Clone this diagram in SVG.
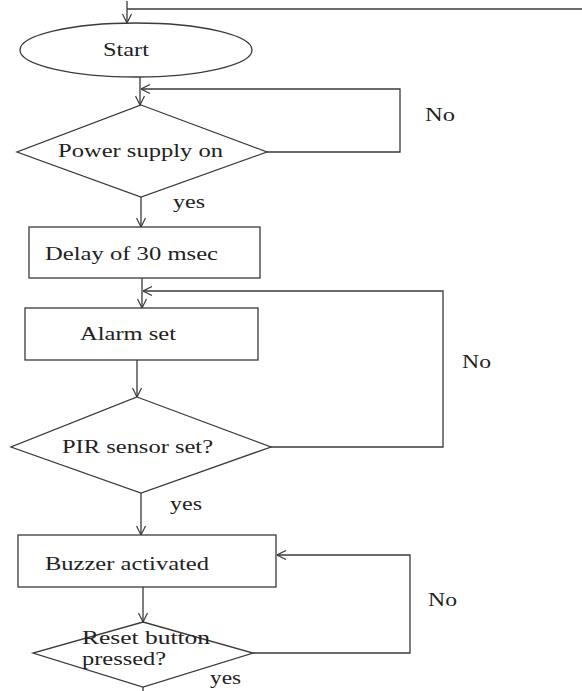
<svg xmlns="http://www.w3.org/2000/svg" width="582" height="691" viewBox="0 0 582 691">
<style>
.shape{fill:none;stroke:#3a3a3a;stroke-width:1.3}
.conn{fill:none;stroke:#3a3a3a;stroke-width:1.3}
text{font-family:"Liberation Serif","Times New Roman",serif;font-size:19px;fill:#222}
</style>
<defs>
<marker id="arr" viewBox="0 0 10 10" refX="10" refY="5" markerWidth="10" markerHeight="10" markerUnits="userSpaceOnUse" orient="auto">
<path d="M1,0.5 L10,5 L1,9.5" fill="none" stroke="#3a3a3a" stroke-width="1.2"/>
</marker>
</defs>
<rect width="582" height="691" fill="#ffffff"/>
<g id="connectors">
<path class="conn" d="M582,9 H127"/>
<path class="conn" d="M127,1 V23" marker-end="url(#arr)"/>
<path class="conn" d="M140,77 V105" marker-end="url(#arr)"/>
<path class="conn" d="M267,152 H400 V89 H141" marker-end="url(#arr)"/>
<path class="conn" d="M141,197 V227" marker-end="url(#arr)"/>
<path class="conn" d="M142,278 V308" marker-end="url(#arr)"/>
<path class="conn" d="M271,447 H443 V291 H143" marker-end="url(#arr)"/>
<path class="conn" d="M137,360 V397" marker-end="url(#arr)"/>
<path class="conn" d="M141,493 V535" marker-end="url(#arr)"/>
<path class="conn" d="M143,587 V622" marker-end="url(#arr)"/>
<path class="conn" d="M253,653 H410 V555 H277" marker-end="url(#arr)"/>
<path class="conn" d="M143,687 V691"/>
<text x="425" y="121" textLength="30" lengthAdjust="spacingAndGlyphs">No</text>
<text x="173" y="208" textLength="32" lengthAdjust="spacingAndGlyphs">yes</text>
<text x="462" y="368" textLength="29" lengthAdjust="spacingAndGlyphs">No</text>
<text x="170" y="510" textLength="32" lengthAdjust="spacingAndGlyphs">yes</text>
<text x="428" y="606" textLength="29" lengthAdjust="spacingAndGlyphs">No</text>
<text x="210" y="684" textLength="31" lengthAdjust="spacingAndGlyphs">yes</text>
</g>
<g id="start">
<ellipse class="shape" cx="136" cy="50" rx="116" ry="27"/>
<text x="103" y="56" textLength="46" lengthAdjust="spacingAndGlyphs">Start</text>
</g>
<g id="power">
<polygon class="shape" points="141,105 267,152 141,197 17,152"/>
<text x="58" y="157" textLength="165" lengthAdjust="spacingAndGlyphs">Power supply on</text>
</g>
<g id="delay">
<rect class="shape" x="29" y="227" width="231" height="51"/>
<text x="45" y="260" textLength="173" lengthAdjust="spacingAndGlyphs">Delay of 30 msec</text>
</g>
<g id="alarm">
<rect class="shape" x="25" y="308" width="233" height="52"/>
<text x="80" y="340" textLength="96" lengthAdjust="spacingAndGlyphs">Alarm set</text>
</g>
<g id="pir">
<polygon class="shape" points="137,397 271,447 141,493 11,447"/>
<text x="62" y="453" textLength="151" lengthAdjust="spacingAndGlyphs">PIR sensor set?</text>
</g>
<g id="buzzer">
<rect class="shape" x="18" y="535" width="258" height="52"/>
<text x="45" y="570" textLength="164" lengthAdjust="spacingAndGlyphs">Buzzer activated</text>
</g>
<g id="reset">
<polygon class="shape" points="143,622 253,653 143,687 33,653"/>
<text x="82" y="644" textLength="128" lengthAdjust="spacingAndGlyphs">Reset button</text>
<text x="82" y="665" textLength="84" lengthAdjust="spacingAndGlyphs">pressed?</text>
</g>
</svg>
